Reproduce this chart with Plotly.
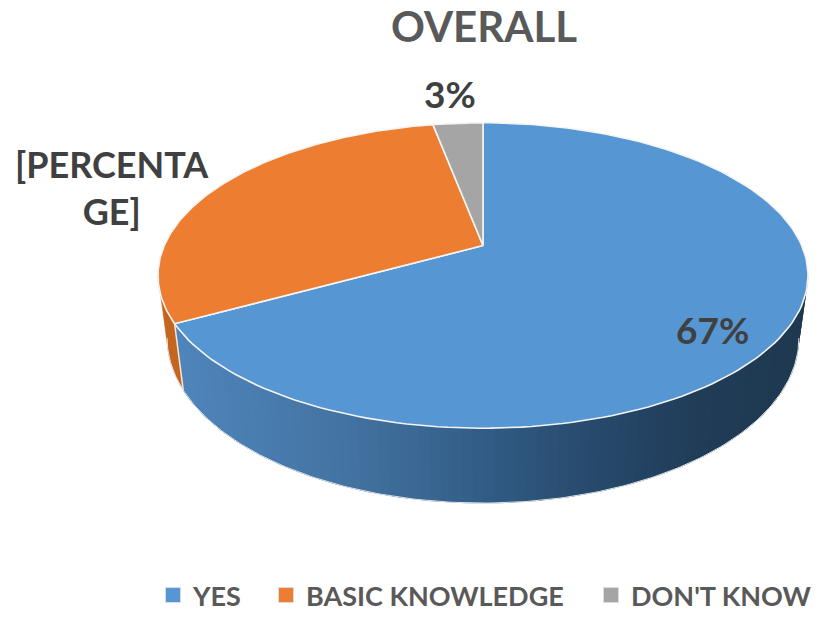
import numpy as np
import plotly.graph_objects as go

categories = ["YES", "BASIC KNOWLEDGE", "DON'T KNOW"]
values = [67, 30, 3]
slice_labels = ["67%", "[PERCENTA<br>GE]", "3%"]
colors = ["#5596d3", "#ed7d31", "#a5a5a5"]
title = "OVERALL"

W, H = 819, 620
BOTTOM_MARGIN = 60  # the legends sit in this strip below the plot area
PLOT_H = H - BOTTOM_MARGIN
Y_RANGE_TRIM = 3    # fine vertical fit of the drawing to the reference
LEGEND_Y = 600
CX, CY = 483, 246
R, A, K = 318.7, 147.1, -0.196
DEPTH, BOTTOM_SCALE = 60.3, 0.972
FONT = "Lato"
TEXT_DARK = "#404040"
TEXT_MID = "#595959"


def top(theta):
    u, v = np.sin(theta), np.cos(theta)
    den = 1 - K * v
    return CX + R * u / den, CY - A * v / den


def bottom(theta):
    x, y = top(theta)
    v = np.cos(theta)
    den = 1 - K * v
    return CX + BOTTOM_SCALE * (x - CX), y + DEPTH / den


def mix(stops, t):
    xs = [s[0] for s in stops]
    ch = [np.interp(t, xs, [s[1][i] for s in stops]) for i in range(3)]
    return "rgb(%d,%d,%d)" % tuple(int(round(c)) for c in ch)


def wall(tt, color, width=0.5):
    x1, y1 = top(tt)
    x2, y2 = bottom(tt)
    return go.Scatter(x=np.r_[x1, x2[::-1]], y=np.r_[y1, y2[::-1]], mode="lines",
                      fill="toself", fillcolor=color, line=dict(width=width, color=color),
                      showlegend=False, hoverinfo="skip")


BLUE_WALL = [(170, (80, 134, 189)), (350, (66, 114, 160)), (480, (50, 92, 134)),
             (600, (38, 72, 106)), (700, (32, 60, 86)), (810, (31, 56, 80))]
ORANGE_WALL = "#c4661f"

fig = go.Figure()
total = sum(values)
edges = np.concatenate([[0], np.cumsum(values)]) / total * 2 * np.pi

# Side wall, visible from the right-hand tangent round the front to the left-hand tangent
WALL_START, WALL_END = np.arccos(K), 2 * np.pi - np.arccos(K)
fig.add_trace(wall(np.linspace(WALL_START, edges[1], 200), mix(BLUE_WALL, 810.0)))
ts = np.linspace(WALL_START, edges[1], 90)
for a, b in zip(ts[:-1], ts[1:]):
    tt = np.linspace(a, min(b + 0.02, edges[1]), 4)
    x1, _ = top(tt)
    x2, _ = bottom(tt)
    fig.add_trace(wall(tt, mix(BLUE_WALL, float((x1.mean() + x2.mean()) / 2)), width=0))
fig.add_trace(wall(np.linspace(edges[1], WALL_END, 30), ORANGE_WALL))

# Pale edges of the wall
x2, y2 = bottom(np.array([edges[1]]))
x1, y1 = top(np.array([edges[1]]))
fig.add_trace(go.Scatter(x=[x1[0], x2[0]], y=[y1[0], y2[0]], mode="lines",
                         line=dict(color="#f3e7dc", width=1.5), showlegend=False, hoverinfo="skip"))
x2, y2 = bottom(np.linspace(WALL_START, WALL_END, 200))
fig.add_trace(go.Scatter(x=x2, y=y2, mode="lines", line=dict(color="#dfe6ec", width=1),
                         showlegend=False, hoverinfo="skip"))

# Top faces
for i, (name, col) in enumerate(zip(categories, colors)):
    tt = np.linspace(edges[i], edges[i + 1], 160)
    x, y = top(tt)
    fig.add_trace(go.Scatter(x=np.r_[CX, x, CX], y=np.r_[CY, y, CY], mode="lines", fill="toself",
                             fillcolor=col, line=dict(color="#f4f4f4", width=1.6),
                             showlegend=False, hoverinfo="skip"))

# Legend entries: each one has its own legend so that it can sit where the reference has it
legend_names = ["legend", "legend2", "legend3"]
legend_text_left = [193, 306, 631]
for name, col, lg in zip(categories, colors, legend_names):
    fig.add_trace(go.Scatter(x=[None], y=[None], mode="markers", name=name, legend=lg,
                             marker=dict(symbol="square", size=15, color=col,
                                         line=dict(color="#dcdcdc", width=1))))
legends = {}
for lg, left in zip(legend_names, legend_text_left):
    legends[lg] = dict(x=(left - 40) / W, y=(PLOT_H - LEGEND_Y) / PLOT_H, xanchor="left", yanchor="middle",
                       font=dict(family=FONT, size=27, color=TEXT_MID, weight="bold"),
                       bgcolor="rgba(0,0,0,0)", itemwidth=30)

# Data labels
label_pos = [(712, 330, 37), (112, 188, 36), (450, 94, 37)]
for text, (x, y, size) in zip(slice_labels, label_pos):
    fig.add_annotation(x=x, y=y, text=text, showarrow=False, xanchor="center", yanchor="middle",
                       font=dict(family=FONT, size=size, color=TEXT_DARK, weight="bold"))

fig.update_layout(
    width=W, height=H, margin=dict(l=0, r=0, t=0, b=BOTTOM_MARGIN),
    paper_bgcolor="white", plot_bgcolor="white",
    title=dict(text=title, x=484 / W, y=1 - 27 / H, xanchor="center", yanchor="middle",
               font=dict(family=FONT, size=42, color=TEXT_MID, weight="bold")),
    xaxis=dict(range=[0, W], visible=False, fixedrange=True),
    yaxis=dict(range=[PLOT_H - Y_RANGE_TRIM, 0], visible=False, fixedrange=True),
    **legends,
)
fig.write_html("out.html", post_script="document.body.style.margin='0';",
               config={"displayModeBar": False})
